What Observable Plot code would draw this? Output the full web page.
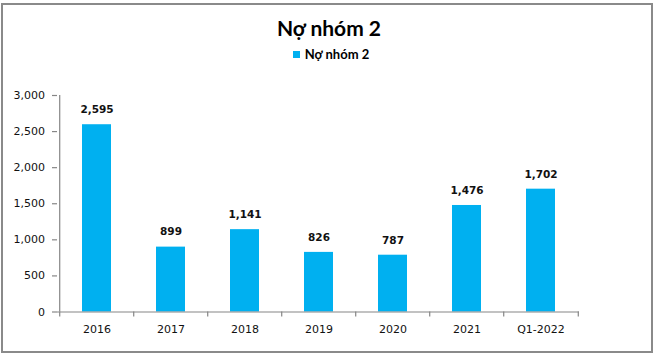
<!DOCTYPE html>
<html>
<head>
<meta charset="utf-8">
<script src="https://cdn.jsdelivr.net/npm/d3@7"></script>
<script src="https://cdn.jsdelivr.net/npm/@observablehq/plot@0.6"></script>
<style>
  html, body { margin: 0; padding: 0; background: #fff; }
  body { width: 658px; height: 357px; position: relative; overflow: hidden; }
  #border { position: absolute; left: 1px; top: 3px; width: 648px; height: 346px; border: 2px solid #8a8a8a; }
  #title { position: absolute; left: 0; top: 16px; width: 658px; text-align: center;
           font-family: Lato, sans-serif; font-weight: 700; font-size: 21px; line-height: 24px; color: #000; }
  #legend { position: absolute; left: 0; top: 46px; width: 662px; text-align: center;
            font-family: Lato, sans-serif; font-weight: 700; font-size: 13px; line-height: 16px; color: #000; }
  #legend .sw { display: inline-block; width: 7px; height: 7px; background: #00B0F0; margin-right: 5px; vertical-align: 1px; }
  #chart { position: absolute; left: 0; top: 70px; }
</style>
</head>
<body>
<div id="border"></div>
<div id="title">Nợ nhóm 2</div>
<div id="legend"><span class="sw"></span>Nợ nhóm 2</div>
<div id="chart"></div>
<script>
const categories = ["2016", "2017", "2018", "2019", "2020", "2021", "Q1-2022"];
const values = [2595, 899, 1141, 826, 787, 1476, 1702];
const yTicks = [0, 500, 1000, 1500, 2000, 2500, 3000];
const seriesName = "Nợ nhóm 2";

const data = categories.map((c, i) => ({cat: c, value: values[i], series: seriesName}));

const W = 658, H = 280, mL = 57, mR = 79, mT = 25, mB = 38.5;
const step = (W - mL - mR) / categories.length;
const unitsPerPx = (yTicks[yTicks.length - 1] - yTicks[0]) / (H - mT - mB);
const tickLen = -5 * unitsPerPx;
const axisColor = "#868686";
const fmt = d3.format(",");

const plot = Plot.plot({
  width: W, height: H,
  marginLeft: mL, marginRight: mR, marginTop: mT, marginBottom: mB,
  style: {fontFamily: "'DejaVu Sans', sans-serif", fontSize: "11px", color: "#111", background: "transparent"},
  x: {domain: categories, paddingInner: 0.61, paddingOuter: 0.305, label: null},
  y: {domain: [yTicks[0], yTicks[yTicks.length - 1]], label: null},
  marks: [
    Plot.barY(data, {x: "cat", y: "value", fill: "#00B0F0"}),
    Plot.ruleY([0], {stroke: axisColor, strokeWidth: 1.2}),
    Plot.ruleX([categories[0]], {x: d => d, dx: -step / 2, y1: yTicks[0], y2: yTicks[yTicks.length - 1], stroke: axisColor, strokeWidth: 1.2}),
    Plot.ruleX(categories, {x: d => d, dx: -step / 2, y1: 0, y2: tickLen, stroke: axisColor, strokeWidth: 1.2}),
    Plot.ruleX([categories[categories.length - 1]], {x: d => d, dx: step / 2, y1: 0, y2: tickLen, stroke: axisColor, strokeWidth: 1.2}),
    Plot.axisY({ticks: yTicks, tickFormat: fmt, tickSize: 5, tickPadding: 7.5, stroke: axisColor, strokeWidth: 1.2, fill: "#111", fontSize: 11}),
    Plot.axisX({tickSize: 0, tickPadding: 13, fill: "#111", fontSize: 11}),
    Plot.text(data, {x: "cat", y: "value", text: d => fmt(d.value), dy: -15, fontWeight: "bold", fontSize: 10.5, fill: "#111"})
  ]
});
document.getElementById("chart").appendChild(plot);
</script>
</body>
</html>
